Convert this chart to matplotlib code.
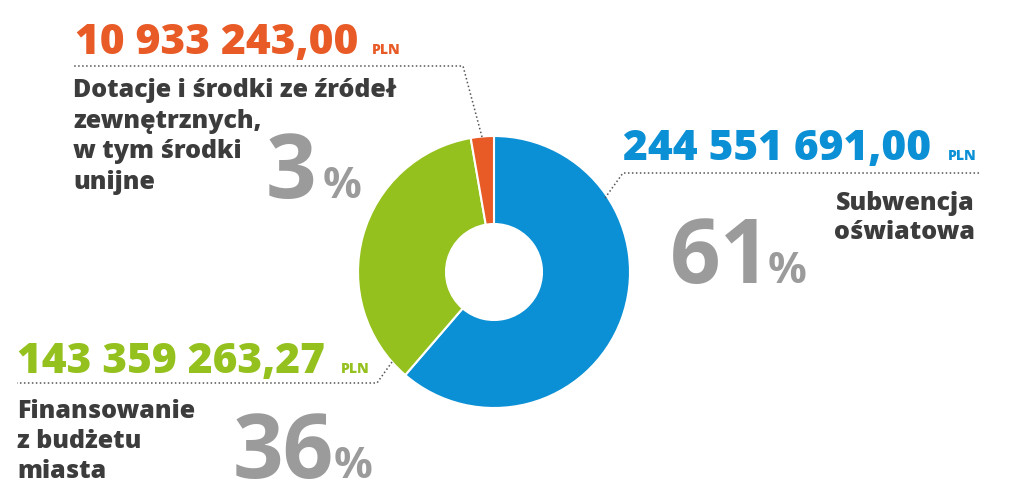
import matplotlib
matplotlib.use("Agg")
import matplotlib.pyplot as plt

# data
labels = ["Subwencja\noświatowa",
          "Finansowanie\nz budżetu\nmiasta",
          "Dotacje i środki ze źródeł\nzewnętrznych,\nw tym środki\nunijne"]
amounts = [244551691.00, 143359263.27, 10933243.00]
amount_txt = ["244 551 691,00", "143 359 263,27", "10 933 243,00"]
pct_txt = ["61", "36", "3"]
colors = ["#0b8fd5", "#95c11f", "#e85a26"]

plt.rcParams['font.family'] = ['Open Sans', 'DejaVu Sans']
dark = "#3c3c3c"
grey = "#9b9b9b"

fig = plt.figure(figsize=(10.24, 5.03), dpi=100)
ax = fig.add_axes([0, 0, 1, 1])

# donut (y axis inverted -> start -90 and counterclock to go clockwise from top)
ax.pie(amounts, colors=colors, startangle=-90, counterclock=True,
       center=(494, 272), radius=136, frame=True,
       wedgeprops=dict(width=88, edgecolor="white", linewidth=1.5))
ax.set_xlim(0, 1024)
ax.set_ylim(503, 0)   # pixel coords, y down
ax.set_aspect("equal")
ax.axis("off")

# leader lines
lk = dict(color="#555555", lw=1.1, ls=(0, (1, 1.6)))
ax.plot([482, 463, 73], [137, 66, 66], **lk)
ax.plot([605, 623, 980], [198, 173, 173], **lk)
ax.plot([392, 377, 17], [362, 383, 383], **lk)

# amounts
big = dict(fontsize=30.5, fontweight="heavy", va="baseline", ha="left")
pln = dict(fontsize=10, fontweight="heavy", va="baseline", ha="left")
ax.text(623, 160, amount_txt[0], color=colors[0], **big)
ax.text(948, 160, "PLN", color=colors[0], **pln)
ax.text(17, 373, amount_txt[1], color=colors[1], **big)
ax.text(341, 373, "PLN", color=colors[1], **pln)
ax.text(75, 54, amount_txt[2], color=colors[2], **big)
ax.text(372, 54, "PLN", color=colors[2], **pln)

# category labels
lab = dict(fontsize=18, fontweight="heavy", color=dark, va="baseline")
for line, y in zip(labels[0].split("\n"), [210, 239]):
    ax.text(975, y, line, ha="right", **lab)
for line, y in zip(labels[1].split("\n"), [418, 448, 478]):
    ax.text(17, y, line, ha="left", **lab)
for line, y in zip(labels[2].split("\n"), [97, 128, 158, 189]):
    ax.text(73, y, line, ha="left", **lab)

# percentages
pc = dict(fontsize=64, fontweight="bold", color=grey, va="baseline", ha="left")
ps = dict(fontsize=31, fontweight="bold", color=grey, va="baseline", ha="left")
ax.text(670, 283, pct_txt[0], **pc)
ax.text(768, 283, "%", **ps)
ax.text(233, 478, pct_txt[1], **pc)
ax.text(334, 478, "%", **ps)
ax.text(266, 198, pct_txt[2], **pc)
ax.text(323, 198, "%", **ps)

fig.savefig("out.png", dpi=100, facecolor="white")
